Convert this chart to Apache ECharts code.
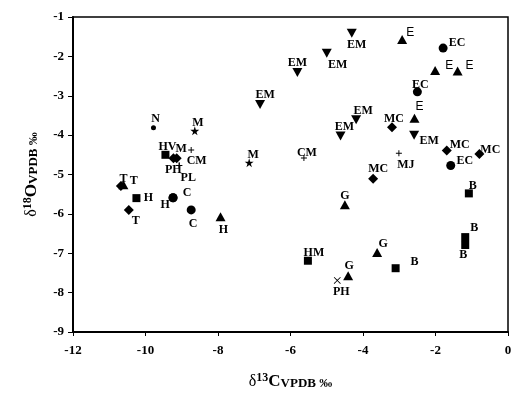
<!DOCTYPE html>
<html>
<head>
<meta charset="utf-8">
<script src="https://cdn.jsdelivr.net/npm/echarts@6/dist/echarts.min.js"></script>
<style>
  html, body { margin: 0; padding: 0; background: #fff; }
  #chart { width: 527px; height: 409px; }
</style>
</head>
<body>
<div id="chart"></div>
<script>
// d13C (x) / d18O (y) values, one group per marker shape
var emX = [-4.31, -5.00, -5.81, -6.84, -4.19, -4.62, -2.59];
var emY = [-1.41, -1.92, -2.41, -3.22, -3.61, -4.02, -4.00];
var emNames = ["EM", "EM", "EM", "EM", "EM", "EM", "EM"];

var triX = [-2.92, -2.01, -1.39, -2.58, -4.50, -3.61, -4.41, -7.93, -10.61];
var triY = [-1.57, -2.36, -2.37, -3.57, -5.77, -6.98, -7.57, -6.07, -5.26];
var triNames = ["E", "E", "E", "E", "G", "G", "G", "H", "T"];

var diaX = [-3.20, -1.69, -0.79, -3.72, -9.23, -9.14, -10.68, -10.46];
var diaY = [-3.80, -4.39, -4.48, -5.11, -4.59, -4.59, -5.29, -5.90];
var diaNames = ["MC", "MC", "MC", "MC", "", "CM", "T", "T"];

var sqX = [-9.45, -10.25, -1.08, -1.18, -1.18, -3.10, -5.52];
var sqY = [-4.50, -5.60, -5.48, -6.59, -6.79, -7.38, -7.19];
var sqNames = ["HV", "H", "B", "B", "B", "B", "HM"];

var cirX = [-1.79, -2.50, -1.58, -9.24, -9.24, -8.74];
var cirY = [-1.79, -2.90, -4.77, -5.59, -5.59, -5.90];
var cirNames = ["EC", "EC", "EC", "C", "H", "C"];

var starX = [-8.64, -7.14];
var starY = [-3.89, -4.70];
var starNames = ["M", "M"];

var plusX = [-8.74, -5.63, -3.01, -9.07, -9.07];
var plusY = [-4.38, -4.58, -4.46, -4.77, -4.77];
var plusNames = ["M", "CM", "MJ", "PH", "PL"];

var dotX = [-9.78];
var dotY = [-3.81];
var dotNames = ["N"];

var crossX = [-4.71];
var crossY = [-7.69];
var crossNames = ["PH"];

var xTicks = [-12, -10, -8, -6, -4, -2, 0];
var yTicks = [-9, -8, -7, -6, -5, -4, -3, -2, -1];

// label offsets (px from marker centre), same order as the data above
var emOff = [[5, 12], [11, 12], [0, -10], [5, -10], [7, -9], [4, -9], [15, 6]];
var triOff = [[8, -7], [14, -5], [12, -5], [5, -12], [0, -9], [6, -9], [1, -10], [3, 13], [0, -6]];
var diaOff = [[2, -8], [13, -6], [11, -4], [5, -10], [0, 0], [20, 3], [13, -5], [7, 11]];
var sqOff = [[2, -8], [12, 0], [4, -7], [9, -9], [-2, 10], [19, -6], [6, -8]];
var cirOff = [[14, -5], [3, -7], [14, -5], [14, -5], [-8, 7], [2, 14]];
var starOff = [[3, -8], [4, -8]];
var plusOff = [[-10, -1], [3, -5], [7, 12], [-6, 4], [9, 12]];
var dotOff = [[2, -9]];
var crossOff = [[4, 11]];

var serif = "Liberation Serif";

function points(xs, ys, names, offs) {
  return xs.map(function (x, i) {
    var sans = names[i] === "E";
    return {
      value: [x, ys[i]],
      name: names[i],
      label: {
        show: names[i] !== "",
        formatter: names[i],
        position: "inside",
        offset: offs[i],
        color: "#000",
        fontFamily: sans ? "Liberation Sans" : serif,
        fontWeight: sans ? "normal" : "bold",
        fontSize: 12
      }
    };
  });
}

function scatter(data, symbol, size, rotate) {
  return {
    type: "scatter",
    data: data,
    symbol: symbol,
    symbolSize: size,
    symbolRotate: rotate || 0,
    itemStyle: { color: "#000", opacity: 1 },
    emphasis: { disabled: true },
    z: 3
  };
}

var starPath = "path://M50,0 L61,35 L98,35 L68,57 L79,91 L50,70 L21,91 L32,57 L2,35 L39,35 Z";
var plusPath = "path://M42,0h16v42h42v16h-42v42h-16v-42h-42v-16h42z";
var crossPath = "path://M0,8 L8,0 L50,42 L92,0 L100,8 L58,50 L100,92 L92,100 L50,58 L8,100 L0,92 L42,50 Z";

var nameRich = {
  d: { fontFamily: serif, fontSize: 16, color: "#000" },
  s: { fontFamily: serif, fontSize: 12, fontWeight: "bold", color: "#000", verticalAlign: "top", padding: [0, 0, 8, 0] },
  c: { fontFamily: serif, fontSize: 17, fontWeight: "bold", color: "#000" },
  v: { fontFamily: serif, fontSize: 13, fontWeight: "bold", color: "#000", padding: [4, 0, 0, 0] }
};

var chart = echarts.init(document.getElementById("chart"));
chart.setOption({
  animation: false,
  backgroundColor: "#fff",
  grid: {
    left: 73, right: 19, top: 17, bottom: 77,
    show: true, borderColor: "#000", borderWidth: 1.5, backgroundColor: "transparent"
  },
  xAxis: {
    type: "value",
    min: -12, max: 0, interval: 2,
    name: "{d|δ}{s|13}{c|C}{v|VPDB ‰}",
    nameLocation: "middle",
    nameGap: 40,
    nameTextStyle: { rich: nameRich },
    axisLine: { onZero: false, lineStyle: { color: "#000", width: 2 } },
    axisTick: { show: true, inside: false, length: 4, lineStyle: { color: "#000", width: 1 } },
    axisLabel: {
      margin: 12, color: "#000", fontFamily: serif, fontWeight: "bold", fontSize: 13,
      formatter: function (v) { return xTicks.indexOf(v) >= 0 ? String(v) : ""; }
    },
    splitLine: { show: false }
  },
  yAxis: {
    type: "value",
    min: -9, max: -1, interval: 1,
    name: "{d|δ}{s|18}{c|O}{v|VPDB ‰}",
    nameLocation: "middle",
    nameGap: 31,
    nameTextStyle: { rich: nameRich },
    axisLine: { onZero: false, lineStyle: { color: "#000", width: 2 } },
    axisTick: { show: true, inside: false, length: 5, lineStyle: { color: "#000", width: 1 } },
    axisLabel: {
      margin: 9, color: "#000", fontFamily: serif, fontWeight: "bold", fontSize: 13,
      formatter: function (v) { return yTicks.indexOf(v) >= 0 ? String(v) : ""; }
    },
    splitLine: { show: false }
  },
  series: [
    scatter(points(emX, emY, emNames, emOff), "triangle", [10, 9], 180),
    scatter(points(triX, triY, triNames, triOff), "triangle", [10, 9]),
    scatter(points(diaX, diaY, diaNames, diaOff), "diamond", [10, 10]),
    scatter(points(sqX, sqY, sqNames, sqOff), "rect", [8, 8]),
    scatter(points(cirX, cirY, cirNames, cirOff), "circle", 9),
    scatter(points(starX, starY, starNames, starOff), starPath, 9),
    scatter(points(plusX, plusY, plusNames, plusOff), plusPath, 6),
    scatter(points(dotX, dotY, dotNames, dotOff), "circle", 5),
    scatter(points(crossX, crossY, crossNames, crossOff), crossPath, 7)
  ]
});
</script>
</body>
</html>
